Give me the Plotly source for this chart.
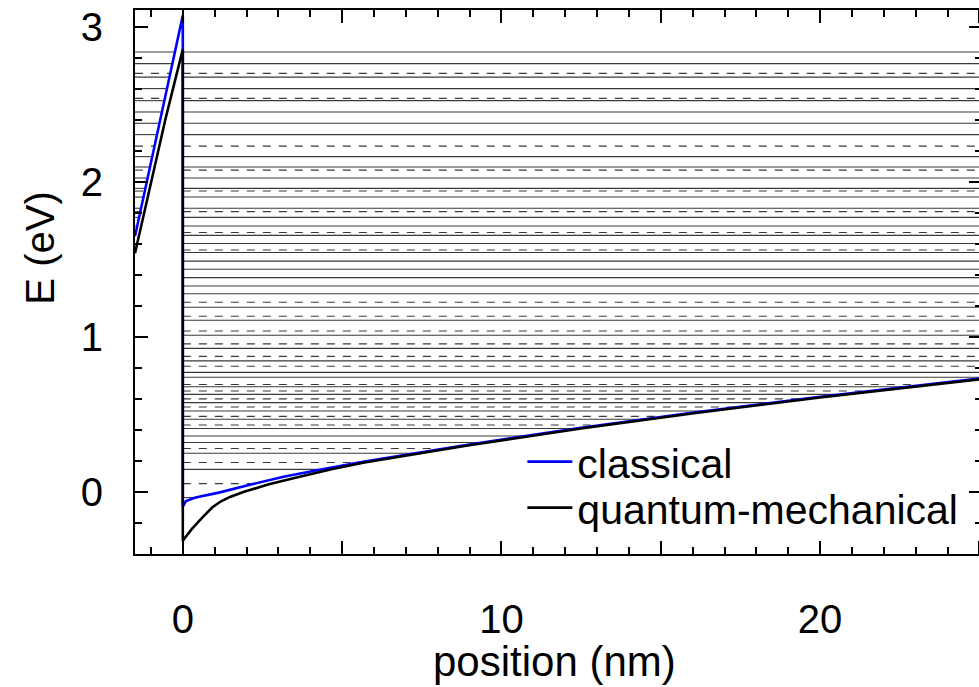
import numpy as np
import plotly.graph_objects as go

# ---- data ----
# classical potential (blue)
classical_x = [-1.5, -0.7, 0.0, 0.0, 0.1, 0.4, 1.13, 2.17, 3.2, 4.25, 5.7, 8.94, 12.5, 16.1, 20.0, 25.0]
classical_E = [1.65, 2.41, 3.075, -0.094, -0.058, -0.036, -0.004, 0.05, 0.10, 0.142, 0.196, 0.305, 0.415, 0.515, 0.615, 0.732]

# quantum-mechanical potential (black)
quantum_x = [-1.5, -0.54, 0.0, 0.0, 0.05, 0.3, 0.61, 0.92, 1.2, 1.5, 1.9, 2.7, 3.7, 4.7, 5.7, 8.94, 12.5, 16.1, 20.0, 25.0]
quantum_E = [1.54, 2.41, 2.856, -0.316, -0.30, -0.235, -0.165, -0.10, -0.06, -0.03, 0.0, 0.05, 0.10, 0.148, 0.19, 0.30, 0.41, 0.51, 0.61, 0.727]

# eigen-energy levels (eV)
levels_solid = [2.839, 2.764, 2.677, 2.603, 2.525, 2.452, 2.379, 2.306, 2.164, 2.097,
                2.026, 1.959, 1.903, 1.831, 1.772, 1.716, 1.656, 1.603, 1.545, 1.490,
                1.437, 1.383, 1.329, 1.279, 1.192, 1.108, 1.011, 0.927, 0.846, 0.772,
                0.740, 0.679, 0.630, 0.577, 0.523, 0.469, 0.410, 0.361, 0.319, 0.250,
                0.146, -0.036]
levels_dashed = [2.701, 2.540, 2.232, 2.077, 1.942, 1.809, 1.674, 1.561, 1.224, 1.134,
                 1.039, 0.956, 0.875, 0.811, 0.694, 0.652, 0.601, 0.548, 0.488, 0.432,
                 0.281, 0.190, 0.054]

x_ticks = [0, 5, 10, 15, 20, 25]
x_ticktext = ["0", "", "10", "", "20", ""]
y_ticks = [0, 1, 2, 3]
y_ticktext = ["0", "1", "2", "3"]

X_MIN, X_MAX = -1.5, 25.08
Y_MIN, Y_MAX = -0.4, 3.11

# ---- build level segments in the classically allowed regions ----
cx = np.array(classical_x)
cE = np.array(classical_E)
bar_x, bar_E = cx[:3], cE[:3]          # barrier part (x <= 0)
well_x, well_E = cx[3:], cE[3:]        # well part (x >= 0)


def segments(levels):
    xs, ys = [], []
    for E in levels:
        # barrier side: allowed where E > V
        if E > bar_E[0]:
            xb = float(np.interp(E, bar_E, bar_x))
            xs += [bar_x[0], xb, None]
            ys += [E, E, None]
        # well side: allowed from x=0 up to the turning point
        if E >= well_E[-1]:
            xw = well_x[-1]
        else:
            xw = float(np.interp(E, well_E, well_x))
        if xw > 0:
            xs += [0.0, xw, None]
            ys += [E, E, None]
    return xs, ys


sx, sy = segments(levels_solid)
dx, dy = segments(levels_dashed)

FONT = "Liberation Sans, Arial, Helvetica, sans-serif"

W, H = 979, 687
ML, MT, MB = 135, 10, 133
PH = H - MT - MB
PW = W - ML

fig = go.Figure()
fig.add_trace(go.Scatter(x=sx, y=sy, mode="lines", showlegend=False, hoverinfo="skip",
                         line=dict(color="#3a3a3a", width=1.1)))
fig.add_trace(go.Scatter(x=dx, y=dy, mode="lines", showlegend=False, hoverinfo="skip",
                         line=dict(color="#3a3a3a", width=1.1, dash="8px,8px")))
fig.add_trace(go.Scatter(x=classical_x, y=classical_E, mode="lines", name="classical",
                         line=dict(color="#0000ff", width=2.6), legend="legend"))
fig.add_trace(go.Scatter(x=quantum_x, y=quantum_E, mode="lines", name="quantum-mechanical",
                         line=dict(color="#000000", width=2.6), legend="legend2"))

axis_common = dict(showline=True, linewidth=2, linecolor="black", mirror="allticks",
                   ticks="inside", ticklen=13, tickwidth=2, tickcolor="black",
                   showgrid=False, zeroline=False, ticklabeloverflow="allow",
                   tickfont=dict(family=FONT, size=40, color="black"))

fig.update_xaxes(range=[X_MIN, X_MAX], tickmode="array", tickvals=x_ticks, ticktext=x_ticktext,
                 ticklabelstandoff=29,
                 minor=dict(dtick=1, tick0=0, ticks="inside", ticklen=7, tickwidth=2,
                            tickcolor="black", showgrid=False),
                 **axis_common)
fig.update_yaxes(range=[Y_MIN, Y_MAX], tickmode="array", tickvals=y_ticks, ticktext=y_ticktext,
                 ticklabelstandoff=22,
                 minor=dict(dtick=0.2, tick0=0, ticks="inside", ticklen=7, tickwidth=2,
                            tickcolor="black", showgrid=False),
                 **axis_common)

legend_common = dict(xref="paper", yref="paper", xanchor="left", yanchor="middle",
                     bgcolor="rgba(0,0,0,0)", borderwidth=0, itemwidth=45,
                     font=dict(family=FONT, size=41, color="black"))


# target page positions (px) converted to paper coords
def px_x(p):
    return (p - ML) / PW


def px_y(p):
    return (H - MB - p) / PH


fig.update_layout(
    width=W + 5, height=H,
    margin=dict(l=ML, r=0, t=MT, b=MB),
    paper_bgcolor="white", plot_bgcolor="white",
    legend=dict(x=px_x(521), y=px_y(462), **legend_common),
    legend2=dict(x=px_x(521), y=px_y(508), **legend_common),
    annotations=[
        dict(text="position (nm)", xref="paper", yref="paper", x=px_x(553), y=px_y(661),
             xanchor="center", yanchor="middle", showarrow=False,
             font=dict(family=FONT, size=42, color="black")),
        dict(text="E (eV)", xref="paper", yref="paper", x=px_x(40), y=px_y(248),
             xanchor="center", yanchor="middle", showarrow=False, textangle=-90,
             font=dict(family=FONT, size=40, color="black")),
    ],
)

fig.write_html("out.html", config={"displayModeBar": False},
               post_script="document.body.style.margin='0';document.body.style.overflow='hidden';")
